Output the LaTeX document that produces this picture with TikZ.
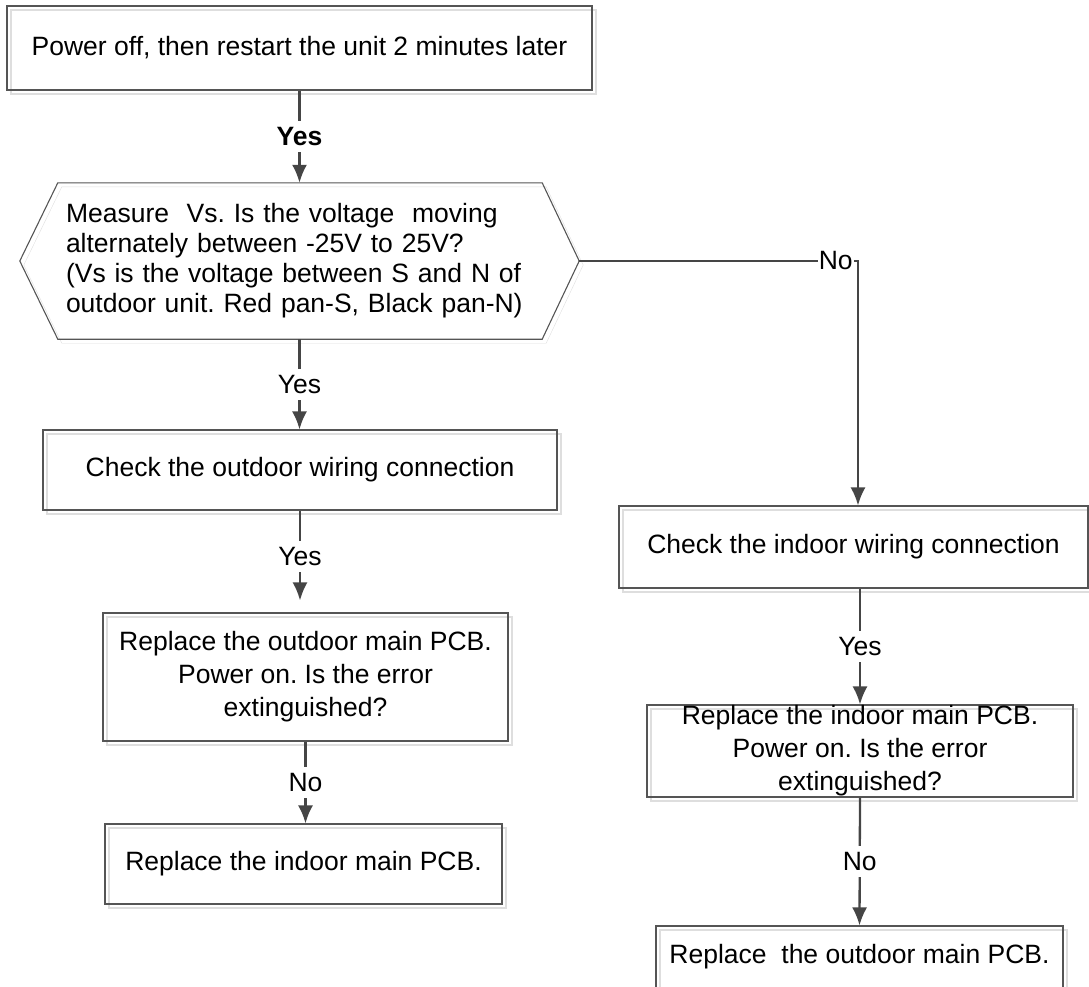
\documentclass[tikz,border=0pt]{standalone}
\usepackage{fontspec}
\setmainfont{Liberation Sans}
\usepackage{tikz}
\usetikzlibrary{shapes,arrows,arrows.meta,calc,shadows}
\usetikzlibrary{positioning}

\definecolor{linegray}{HTML}{454545}
\definecolor{boxgray}{HTML}{555555}
\definecolor{shadegray}{HTML}{DEDEDE}
\newcommand{\dfont}{\fontsize{26.5pt}{33pt}\selectfont\frenchspacing}

\tikzset{
  shadowed/.style={drop shadow={shadow xshift=4pt, shadow yshift=-4pt, draw=shadegray, fill=none, opacity=1}},
  stepbox/.style={draw=boxgray, line width=1.1pt, inner sep=0pt, align=center, shadowed},
  hextext/.style={inner xsep=46pt, inner ysep=0pt, text width=467pt, minimum height=156pt,
    align=left, font=\fontsize{26.5pt}{30pt}\selectfont\frenchspacing},
  conn/.style={draw=linegray, line width=2.3pt, -{Latex[length=18pt,width=15pt]}},
  lbl/.style={fill=white, inner sep=6pt, text=black},
}

\begin{document}
\begin{tikzpicture}[x=1pt, y=-1pt, font=\dfont]
  \useasboundingbox (0,0) rectangle (1089,986);

  % left column
  \node[stepbox, minimum width=585pt, minimum height=84pt] (restart) at (299.5,48)
    {Power off, then restart the unit 2 minutes later};
  \node[hextext] (meas) at (299.5,261)
    {Measure\ \ Vs. Is the voltage\ \ moving\\
     alternately between -25V to 25V?\\
     (Vs is the voltage between S and N of\\
     outdoor unit. Red pan-S, Black pan-N)};
  \draw[boxgray, line width=1.1pt, shadowed]
    ($(meas.north west)+(38,0)$) -- ($(meas.north east)+(-37,0)$) -- (meas.east)
    -- ($(meas.south east)+(-37,0)$) -- ($(meas.south west)+(38,0)$) -- (meas.west) -- cycle;
  \node[stepbox, minimum width=514pt, minimum height=80pt] (outchk) at (300,470)
    {Check the outdoor wiring connection};
  \node[stepbox, minimum width=405pt, minimum height=128pt] (outpcb) at (305.5,677)
    {Replace the outdoor main PCB.\\ Power on. Is the error\\ extinguished?};
  \node[stepbox, minimum width=397pt, minimum height=80pt] (inrep) at (303.5,864)
    {Replace the indoor main PCB.};

  % right column
  \coordinate (nobend) at (858,261);
  \node[stepbox, minimum width=469pt, minimum height=82pt] (indchk) at (853.5,547)
    {Check the indoor wiring connection};
  \node[stepbox, minimum width=426pt, minimum height=92pt] (inpcb) at (860,751)
    {Replace the indoor main PCB.\\ Power on. Is the error\\ extinguished?};
  \node[stepbox, minimum width=407pt, minimum height=62pt] (outrep) at (859.5,957)
    {Replace\ \ the outdoor main PCB.};

  % connectors
  \draw[conn] (restart) -- node[lbl] (yesa) {\textbf{Yes}} (meas);
  \draw[conn] (meas.south) -- node[lbl] (yesb) {Yes} (meas.south |- outchk.north);
  \draw[conn, shorten >=12pt] (outchk.south) -- node[lbl, pos=0.45] (yesc) {Yes} (outchk.south |- outpcb.north);
  \draw[conn] (outpcb.south) -- node[lbl] (noa) {No} (outpcb.south |- inrep.north);
  \draw[conn] (meas.east) -- node[lbl, inner xsep=1pt, pos=0.92] (nob) {No} (nobend) -- (nobend |- indchk.north);
  \draw[conn] (inpcb.north |- indchk.south) -- node[lbl] (yesd) {Yes} (inpcb.north);
  \draw[conn] (inpcb.south) -- node[lbl] (noc) {No} (outrep.north);
\end{tikzpicture}
\end{document}
